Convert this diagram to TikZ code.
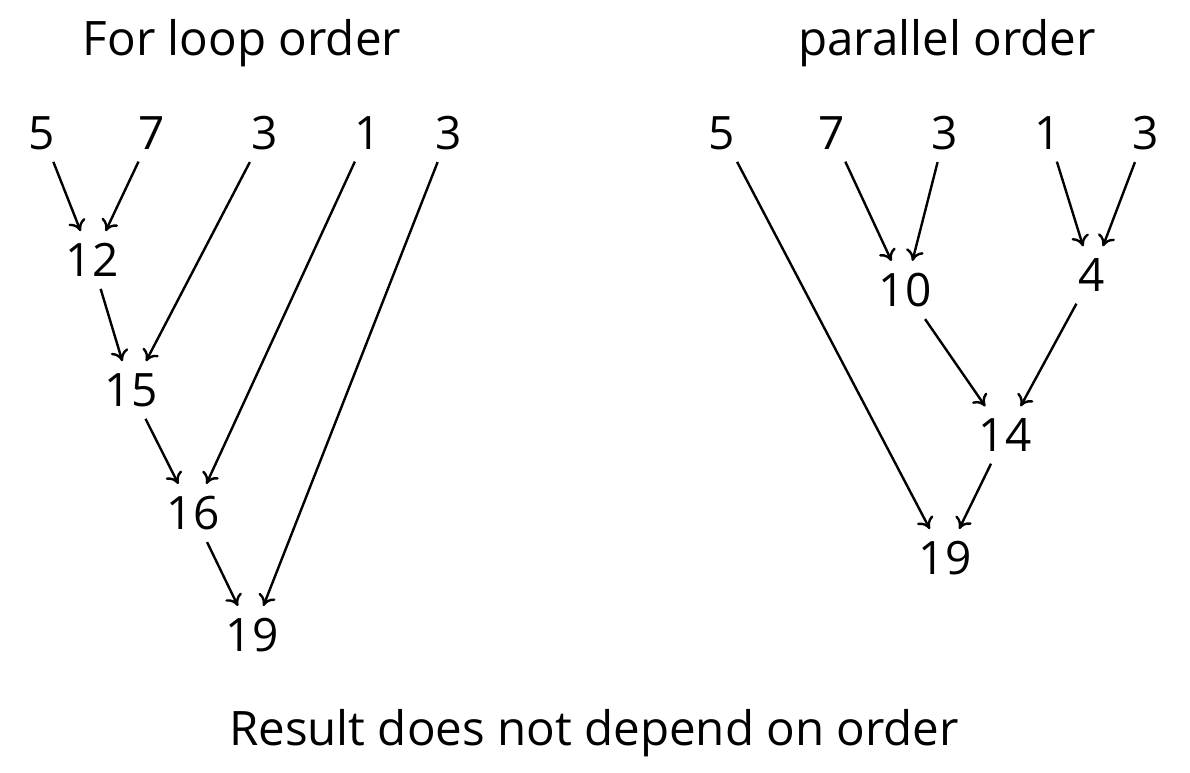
\documentclass[tikz,border=0pt]{standalone}
\usepackage{fontspec}
\setmainfont{Open Sans}
\usetikzlibrary{arrows.meta}
\tikzset{every picture/.style={line width=2.4pt}}
\tikzset{num/.style={font=\fontsize{46}{52}\selectfont, inner sep=11pt},
  ttl/.style={font=\fontsize{47.5}{54}\selectfont},
  arr/.style={-{To[length=11pt,width=18pt]}}}
\begin{document}
\begin{tikzpicture}[x=1pt,y=1pt,yscale=-1,xscale=1]
\useasboundingbox (0,0) rectangle (1190,772);

% Titles
\node[ttl] (tl) at (242,43) {For loop order};
\node[ttl] (tr) at (947,43) {parallel order};
\node[ttl] (tb) at (594,733) {Result does not depend on order};

% Left: for loop order
\node[num] (la) at (42,133) {5};
\node[num] (lb) at (152,133) {7};
\node[num] (lc) at (265,133) {3};
\node[num] (ld) at (368,133) {1};
\node[num] (le) at (449,133) {3};
\node[num] (l12) at (92,260) {12};
\node[num] (l15) at (131,390) {15};
\node[num] (l16) at (193,513) {16};
\node[num] (l19) at (252,635) {19};

\draw[arr] (la) -- (l12);
\draw[arr] (lb) -- (l12);
\draw[arr] (l12) -- (l15);
\draw[arr] (lc) -- (l15);
\draw[arr] (l15) -- (l16);
\draw[arr] (ld) -- (l16);
\draw[arr] (l16) -- (l19);
\draw[arr] (le) -- (l19);

% Right: parallel order
\node[num] (ra) at (722,133) {5};
\node[num] (rb) at (832,133) {7};
\node[num] (rc) at (945,133) {3};
\node[num] (rd) at (1048,133) {1};
\node[num] (re) at (1146,133) {3};
\node[num] (r10) at (905,290) {10};
\node[num] (r4) at (1092,275) {4};
\node[num] (r14) at (1005,435) {14};
\node[num] (r19) at (945,558) {19};

\draw[arr] (rb) -- (r10);
\draw[arr] (rc) -- (r10);
\draw[arr] (rd) -- (r4);
\draw[arr] (re) -- (r4);
\draw[arr] (r10) -- (r14);
\draw[arr] (r4) -- (r14);
\draw[arr] (ra) -- (r19);
\draw[arr] (r14) -- (r19);

\end{tikzpicture}
\end{document}
